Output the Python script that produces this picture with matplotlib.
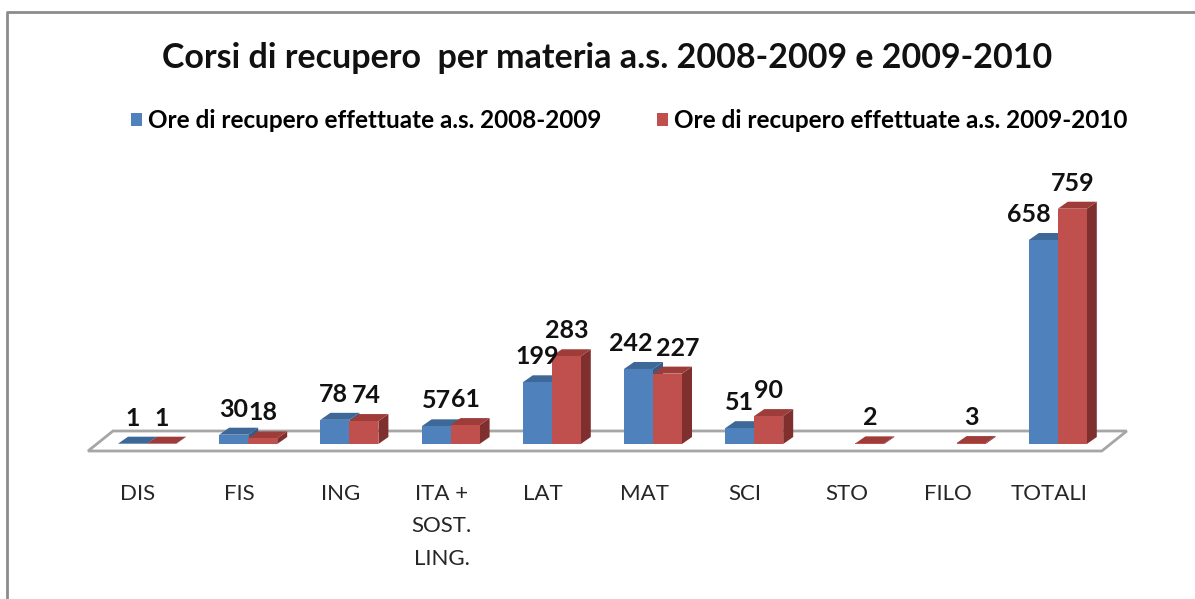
import matplotlib
matplotlib.use('Agg')
import matplotlib.pyplot as plt
from matplotlib.patches import Polygon, Patch, Rectangle
from matplotlib.lines import Line2D

# ---------------- data ----------------
categories = ['DIS', 'FIS', 'ING', 'ITA +\nSOST.\nLING.', 'LAT', 'MAT', 'SCI', 'STO', 'FILO', 'TOTALI']
ore_2008_2009 = [1, 30, 78, 57, 199, 242, 51, None, None, 658]
ore_2009_2010 = [1, 18, 74, 61, 283, 227, 90, 2, 3, 759]
series_names = ['Ore di recupero effettuate a.s. 2008-2009',
                'Ore di recupero effettuate a.s. 2009-2010']
title = 'Corsi di recupero  per materia a.s. 2008-2009 e 2009-2010'

# ---------------- style ----------------
plt.rcParams['font.family'] = ['Lato', 'DejaVu Sans']
face_colors = [('#4F81BD', '#3D6898', '#375B87'),   # front, top, side
               ('#C0504D', '#9E3C3A', '#7F302E')]
label_nudge_px = {(9, 0): -14, (5, 0): -8, (5, 1): 10, (2, 0): -2, (2, 1): 2}

W, H = 1195, 599
fig = plt.figure(figsize=(W / 100, H / 100), dpi=100)
ax = fig.add_axes([0, 0, 1, 1])

# pixel geometry of the pseudo-3D plot
x0_px, step_px, base_px, ppu = 147, 101.2, 444, 0.31
ax.set_xlim(-x0_px / step_px, (W - x0_px) / step_px)
ax.set_ylim(-(H - base_px) / ppu, base_px / ppu)
ax.axis('off')

ux = 1 / step_px       # one pixel in x data units
uy = 1 / ppu           # one pixel in y data units
bw = 29 * ux
dx, dy = 10 * ux, 7 * uy

# floor
n = len(categories)
fl = [(-59 * ux, -7 * uy), (n - 1 + 44 * ux, -7 * uy),
      (n - 1 + 69 * ux, 13 * uy), (-34 * ux, 13 * uy)]
ax.add_patch(Polygon(fl, closed=True, facecolor='white', edgecolor='#A6A6A6', lw=2, zorder=1))

def bar3d(xl, h, cols):
    front, top, side = cols
    ax.add_patch(Polygon([(xl + bw, 0), (xl + bw + dx, dy), (xl + bw + dx, h + dy), (xl + bw, h)],
                         closed=True, facecolor=side, edgecolor='none', zorder=2))
    ax.add_patch(Polygon([(xl, h), (xl + bw, h), (xl + bw + dx, h + dy), (xl + dx, h + dy)],
                         closed=True, facecolor=top, edgecolor='none', zorder=2))
    ax.add_patch(Rectangle((xl, 0), bw, h, facecolor=front, edgecolor='none', zorder=2))

series = [ore_2008_2009, ore_2009_2010]
for i in range(n):
    for s, vals in enumerate(series):
        v = vals[i]
        if v is None:
            continue
        xl = i - bw + s * bw
        bar3d(xl, v, face_colors[s])
        nud = label_nudge_px.get((i, s), 0) * 0.72
        ax.annotate(str(v), xy=(xl + bw / 2, v), xytext=(nud, 13), textcoords='offset points',
                    ha='center', va='baseline', fontsize=18, fontweight='bold',
                    color='#111111', zorder=5)

# category labels
for i, c in enumerate(categories):
    ax.text(i - 9 * ux, -40 * uy, c, ha='center', va='top', multialignment='center',
            fontsize=16, linespacing=1.78, color='#262626')

# title
fig.text(0.508, 1 - 58 / H, title, ha='center', va='center', fontsize=24.5,
         fontweight='bold', color='#111111')

# legend
handles = [Patch(facecolor=face_colors[0][0]), Patch(facecolor=face_colors[1][0])]
leg = fig.legend(handles, series_names, loc='center', bbox_to_anchor=(629 / W, 1 - 121 / H),
                 ncol=2, frameon=False, handlelength=0.45, handleheight=0.45,
                 handletextpad=0.25, columnspacing=2.3,
                 prop={'size': 17.5, 'weight': 'bold'})

# chart border
fig.add_artist(Line2D([7 / W, 7 / W, 1], [0, 1 - 12 / H, 1 - 12 / H],
                      transform=fig.transFigure, color='#8C8C8C', lw=2))

fig.savefig('out.png', dpi=100)
